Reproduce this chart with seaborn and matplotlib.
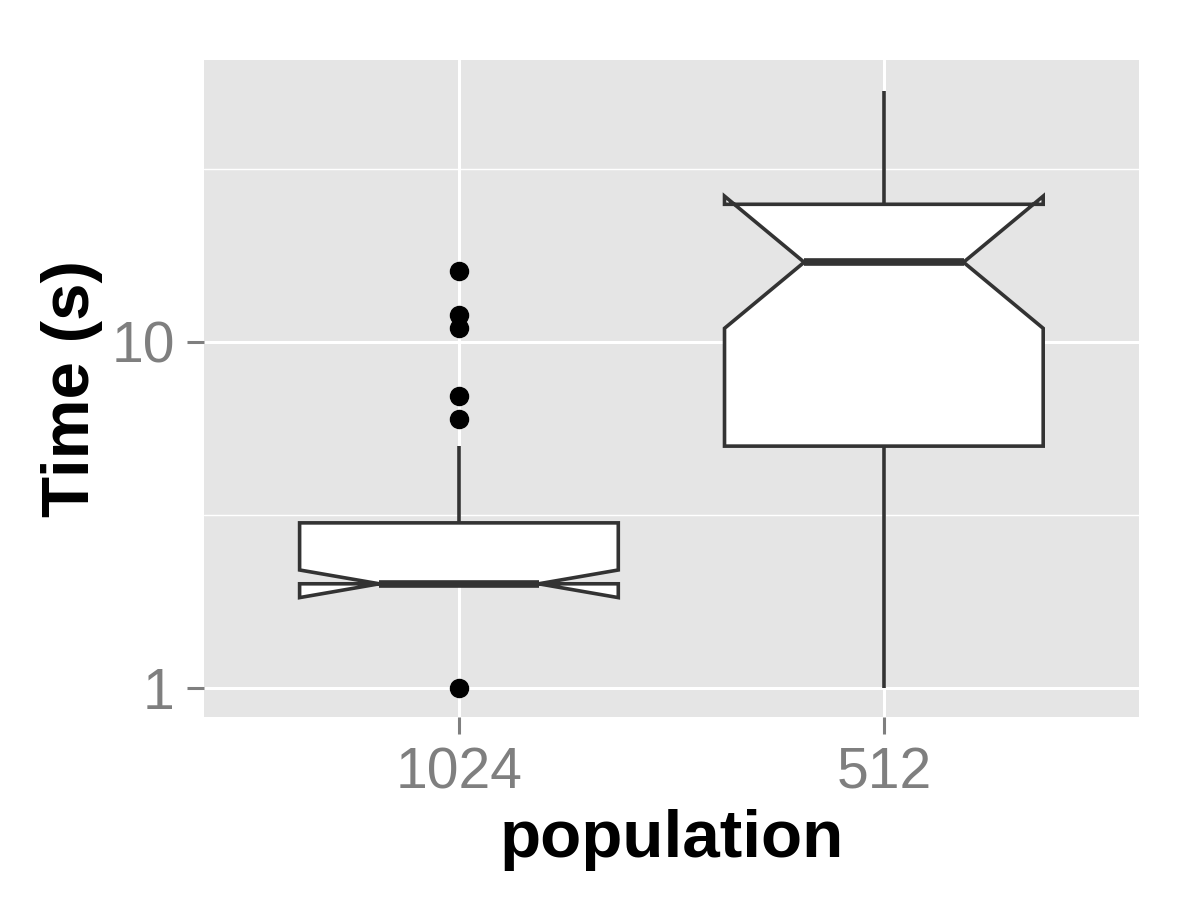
import pandas as pd
import matplotlib
matplotlib.use("Agg")
import matplotlib.pyplot as plt
from matplotlib.ticker import FixedLocator, NullFormatter
import seaborn as sns

pop_1024 = [1] + [2] * 24 + [3] * 13 + [4] * 3 + [5] * 2 + [6, 7, 11, 12, 16]
pop_512 = [1, 2, 2, 3, 3, 4, 4, 5, 5, 6, 8, 9, 10, 12, 14, 16, 17,
           18, 19, 20, 21, 22, 23, 24, 25, 27, 29, 31, 34, 37, 41, 46, 53]
categories = ["1024", "512"]
y_ticks = [1, 10]
y_tick_labels = ["1", "10"]

df = pd.DataFrame({
    "population": ["1024"] * len(pop_1024) + ["512"] * len(pop_512),
    "time": pop_1024 + pop_512,
})

sns.set_theme(style="darkgrid")
plt.rcParams["font.family"] = ["Liberation Sans", "DejaVu Sans"]
plt.rcParams["axes.facecolor"] = "#E5E5E5"
plt.rcParams["grid.color"] = "white"

fig, ax = plt.subplots(figsize=(12, 9), dpi=100)
fig.subplots_adjust(left=0.17, right=0.949, top=0.9333, bottom=0.2033)

sns.boxplot(data=df, x="population", y="time", order=categories,
            log_scale=True, notch=True, width=0.75,
            color="white", linecolor="#333333", linewidth=2.6,
            showcaps=False, saturation=1,
            medianprops={"linewidth": 5.5, "color": "#333333"},
            flierprops={"marker": "o", "markerfacecolor": "black",
                        "markeredgecolor": "black", "markersize": 13},
            ax=ax)

ax.set_xlim(-0.6, 1.6)
ax.set_ylim(0.824, 65.3)
ax.set_yticks(y_ticks)
ax.set_yticklabels(y_tick_labels)
ax.yaxis.set_minor_locator(FixedLocator([10 ** 0.5, 10 ** 1.5]))
ax.yaxis.set_minor_formatter(NullFormatter())

ax.grid(True, which="major", color="white", linewidth=2.2)
ax.grid(True, which="minor", axis="y", color="white", linewidth=1.0)
for s in ax.spines.values():
    s.set_visible(False)

ax.tick_params(axis="both", which="major", length=12, width=2.2,
               color="#7F7F7F", labelcolor="#7F7F7F", labelsize=41, pad=9)
ax.tick_params(axis="y", which="minor", length=0)
ax.tick_params(bottom=True, left=True)

ax.set_xlabel("population", fontsize=48.5, fontweight="bold", color="black")
ax.set_ylabel("Time (s)", fontsize=48.5, fontweight="bold", color="black")
ax.xaxis.set_label_coords(0.5, -0.14)
ax.yaxis.set_label_coords(-0.108, 0.5)

fig.savefig("out.png", dpi=100)
